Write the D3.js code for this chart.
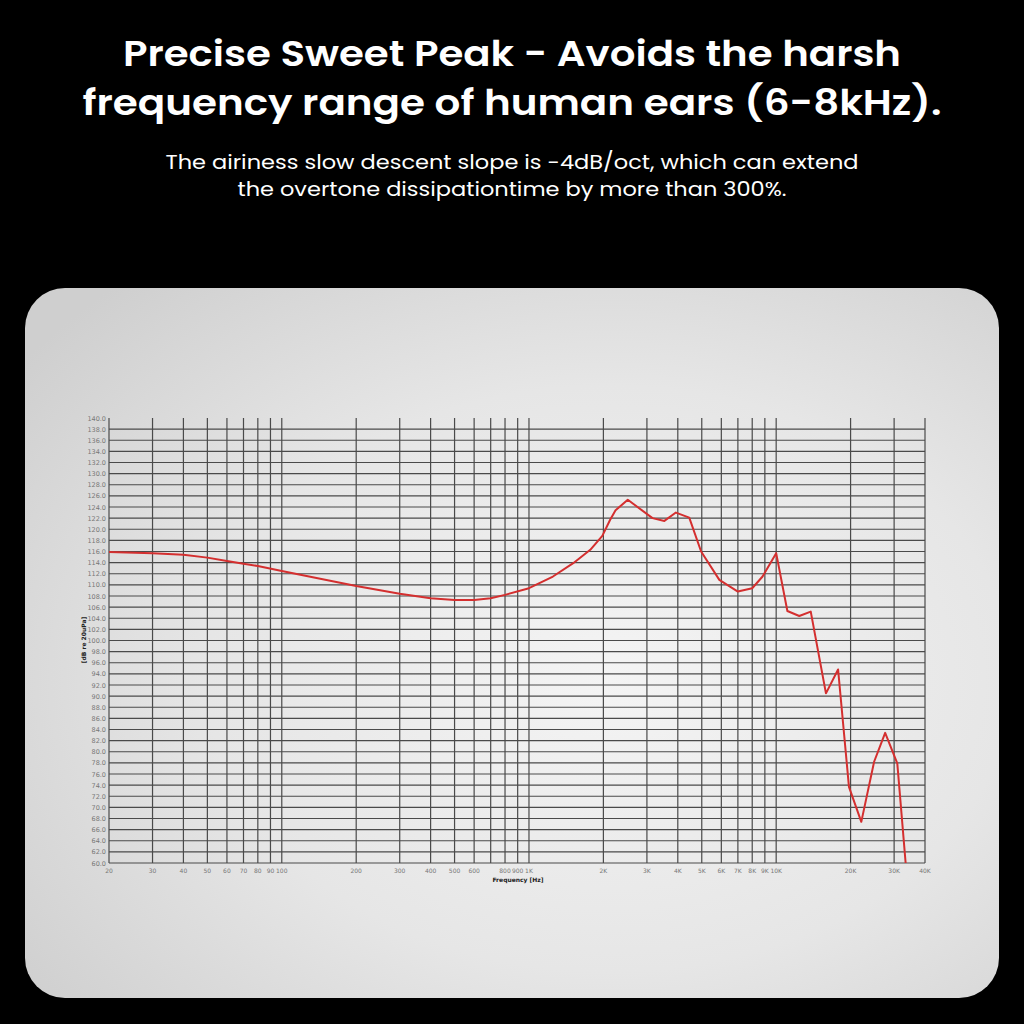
<!DOCTYPE html>
<html><head><meta charset="utf-8">
<script src="https://cdn.jsdelivr.net/npm/d3@7"></script>
<style>
html,body{margin:0;padding:0;background:#000;}
svg{display:block;}
</style></head>
<body>
<svg id="chart" width="1024" height="1024"></svg>
<script>
// ---- data ----
const titleLines = ["Precise Sweet Peak - Avoids the harsh", "frequency range of human ears (6-8kHz)."];
const subtitleLines = ["The airiness slow descent slope is -4dB/oct, which can extend", "the overtone dissipationtime by more than 300%."];
const gridFreqs = [20,30,40,50,60,70,80,90,100,200,300,400,500,600,700,800,900,1000,2000,3000,4000,5000,6000,7000,8000,9000,10000,20000,30000,40000];
const xTickLabels = ["20","30","40","50","60","70","80","90","100","200","300","400","500","600","","800","900","1K","2K","3K","4K","5K","6K","7K","8K","9K","10K","20K","30K","40K"];
const yTicks = d3.range(60, 141, 2);
const freqs = [20,30,40,50,60,70,80,100,200,300,400,500,600,700,800,1000,1250,1510,1770,1980,2130,2240,2510,3160,3530,3930,4450,4970,5890,7000,8000,8810,10000,11100,12400,13800,15900,17800,19700,22100,24900,27600,30900,33400];
const spl   = [115.9,115.7,115.4,114.9,114.3,113.8,113.4,112.5,109.8,108.4,107.6,107.3,107.3,107.6,108.2,109.4,111.5,113.9,116.3,118.8,121.7,123.4,125.3,122.0,121.5,123.0,122.1,116.0,110.9,108.8,109.4,111.5,115.7,105.3,104.4,105.2,90.5,94.8,73.7,67.4,78.2,83.4,77.9,60.0];

const svg = d3.select("#chart");
svg.append("rect").attr("width",1024).attr("height",1024).attr("fill","#000");

// titles
const tf = "Poppins, 'Open Sans', Inter, sans-serif";
svg.selectAll("text.title").data(titleLines).enter().append("text")
  .attr("x",512).attr("y",(d,i)=>66+i*49).attr("text-anchor","middle")
  .attr("fill","#fff").attr("font-family",tf).attr("font-weight",600).attr("font-size",35)
  .attr("textLength",(d,i)=>i===0?778:859).attr("lengthAdjust","spacingAndGlyphs")
  .text(d=>d);
svg.selectAll("text.sub").data(subtitleLines).enter().append("text")
  .attr("x",512).attr("y",(d,i)=>169+i*27).attr("text-anchor","middle")
  .attr("fill","#fff").attr("font-family",tf).attr("font-weight",400).attr("font-size",20)
  .attr("textLength",(d,i)=>i===0?693:549).attr("lengthAdjust","spacingAndGlyphs")
  .text(d=>d);

// card
const defs = svg.append("defs");
const rg = defs.append("radialGradient").attr("id","bg").attr("cx","0.6").attr("cy","0.55").attr("r","0.75");
rg.append("stop").attr("offset","0%").attr("stop-color","#f4f4f4");
rg.append("stop").attr("offset","55%").attr("stop-color","#e6e6e6");
rg.append("stop").attr("offset","100%").attr("stop-color","#cfcfcf");
svg.append("rect").attr("x",25).attr("y",288).attr("width",974).attr("height",710).attr("rx",40).attr("ry",40).attr("fill","url(#bg)");

// scales
const x = d3.scaleLog().domain([20,40000]).range([109,925]);
const y = d3.scaleLinear().domain([60,140]).range([863,418]);

const g = svg.append("g");
// horizontal grid
g.selectAll("line.h").data(yTicks.filter(v=>v<140)).enter().append("line")
  .attr("x1",109).attr("x2",925).attr("y1",d=>y(d)).attr("y2",d=>y(d))
  .attr("stroke","#4a4a4a").attr("stroke-width",1.2);
// vertical grid
g.selectAll("line.v").data(gridFreqs).enter().append("line")
  .attr("x1",d=>x(d)).attr("x2",d=>x(d)).attr("y1",y(140)).attr("y2",y(60))
  .attr("stroke","#4a4a4a").attr("stroke-width",1.2);

// axes labels
const lf = "'DejaVu Sans', sans-serif";
g.selectAll("text.yt").data(yTicks).enter().append("text")
  .attr("x",106).attr("y",d=>y(d)+2.5).attr("text-anchor","end")
  .attr("font-family",lf).attr("font-size",6.5).attr("fill","#777")
  .text(d=>d.toFixed(1));
g.selectAll("text.xt").data(gridFreqs).enter().append("text")
  .attr("x",d=>x(d)).attr("y",873).attr("text-anchor","middle")
  .attr("font-family",lf).attr("font-size",6).attr("fill","#777")
  .text((d,i)=>xTickLabels[i]);
g.append("text").attr("x",518).attr("y",882).attr("text-anchor","middle")
  .attr("font-family",lf).attr("font-weight","bold").attr("font-size",6).attr("fill","#222")
  .text("Frequency  [Hz]");
g.append("text").attr("transform","translate(86,640) rotate(-90)").attr("text-anchor","middle")
  .attr("font-family",lf).attr("font-weight","bold").attr("font-size",6).attr("fill","#222")
  .text("[dB re 20uPa]");

// curve
const line = d3.line().x((d,i)=>x(freqs[i])).y(d=>y(d));
g.append("path").datum(spl).attr("d",line).attr("fill","none")
  .attr("stroke","#d42f2f").attr("stroke-width",2).attr("stroke-linejoin","round");
</script>
</body></html>
